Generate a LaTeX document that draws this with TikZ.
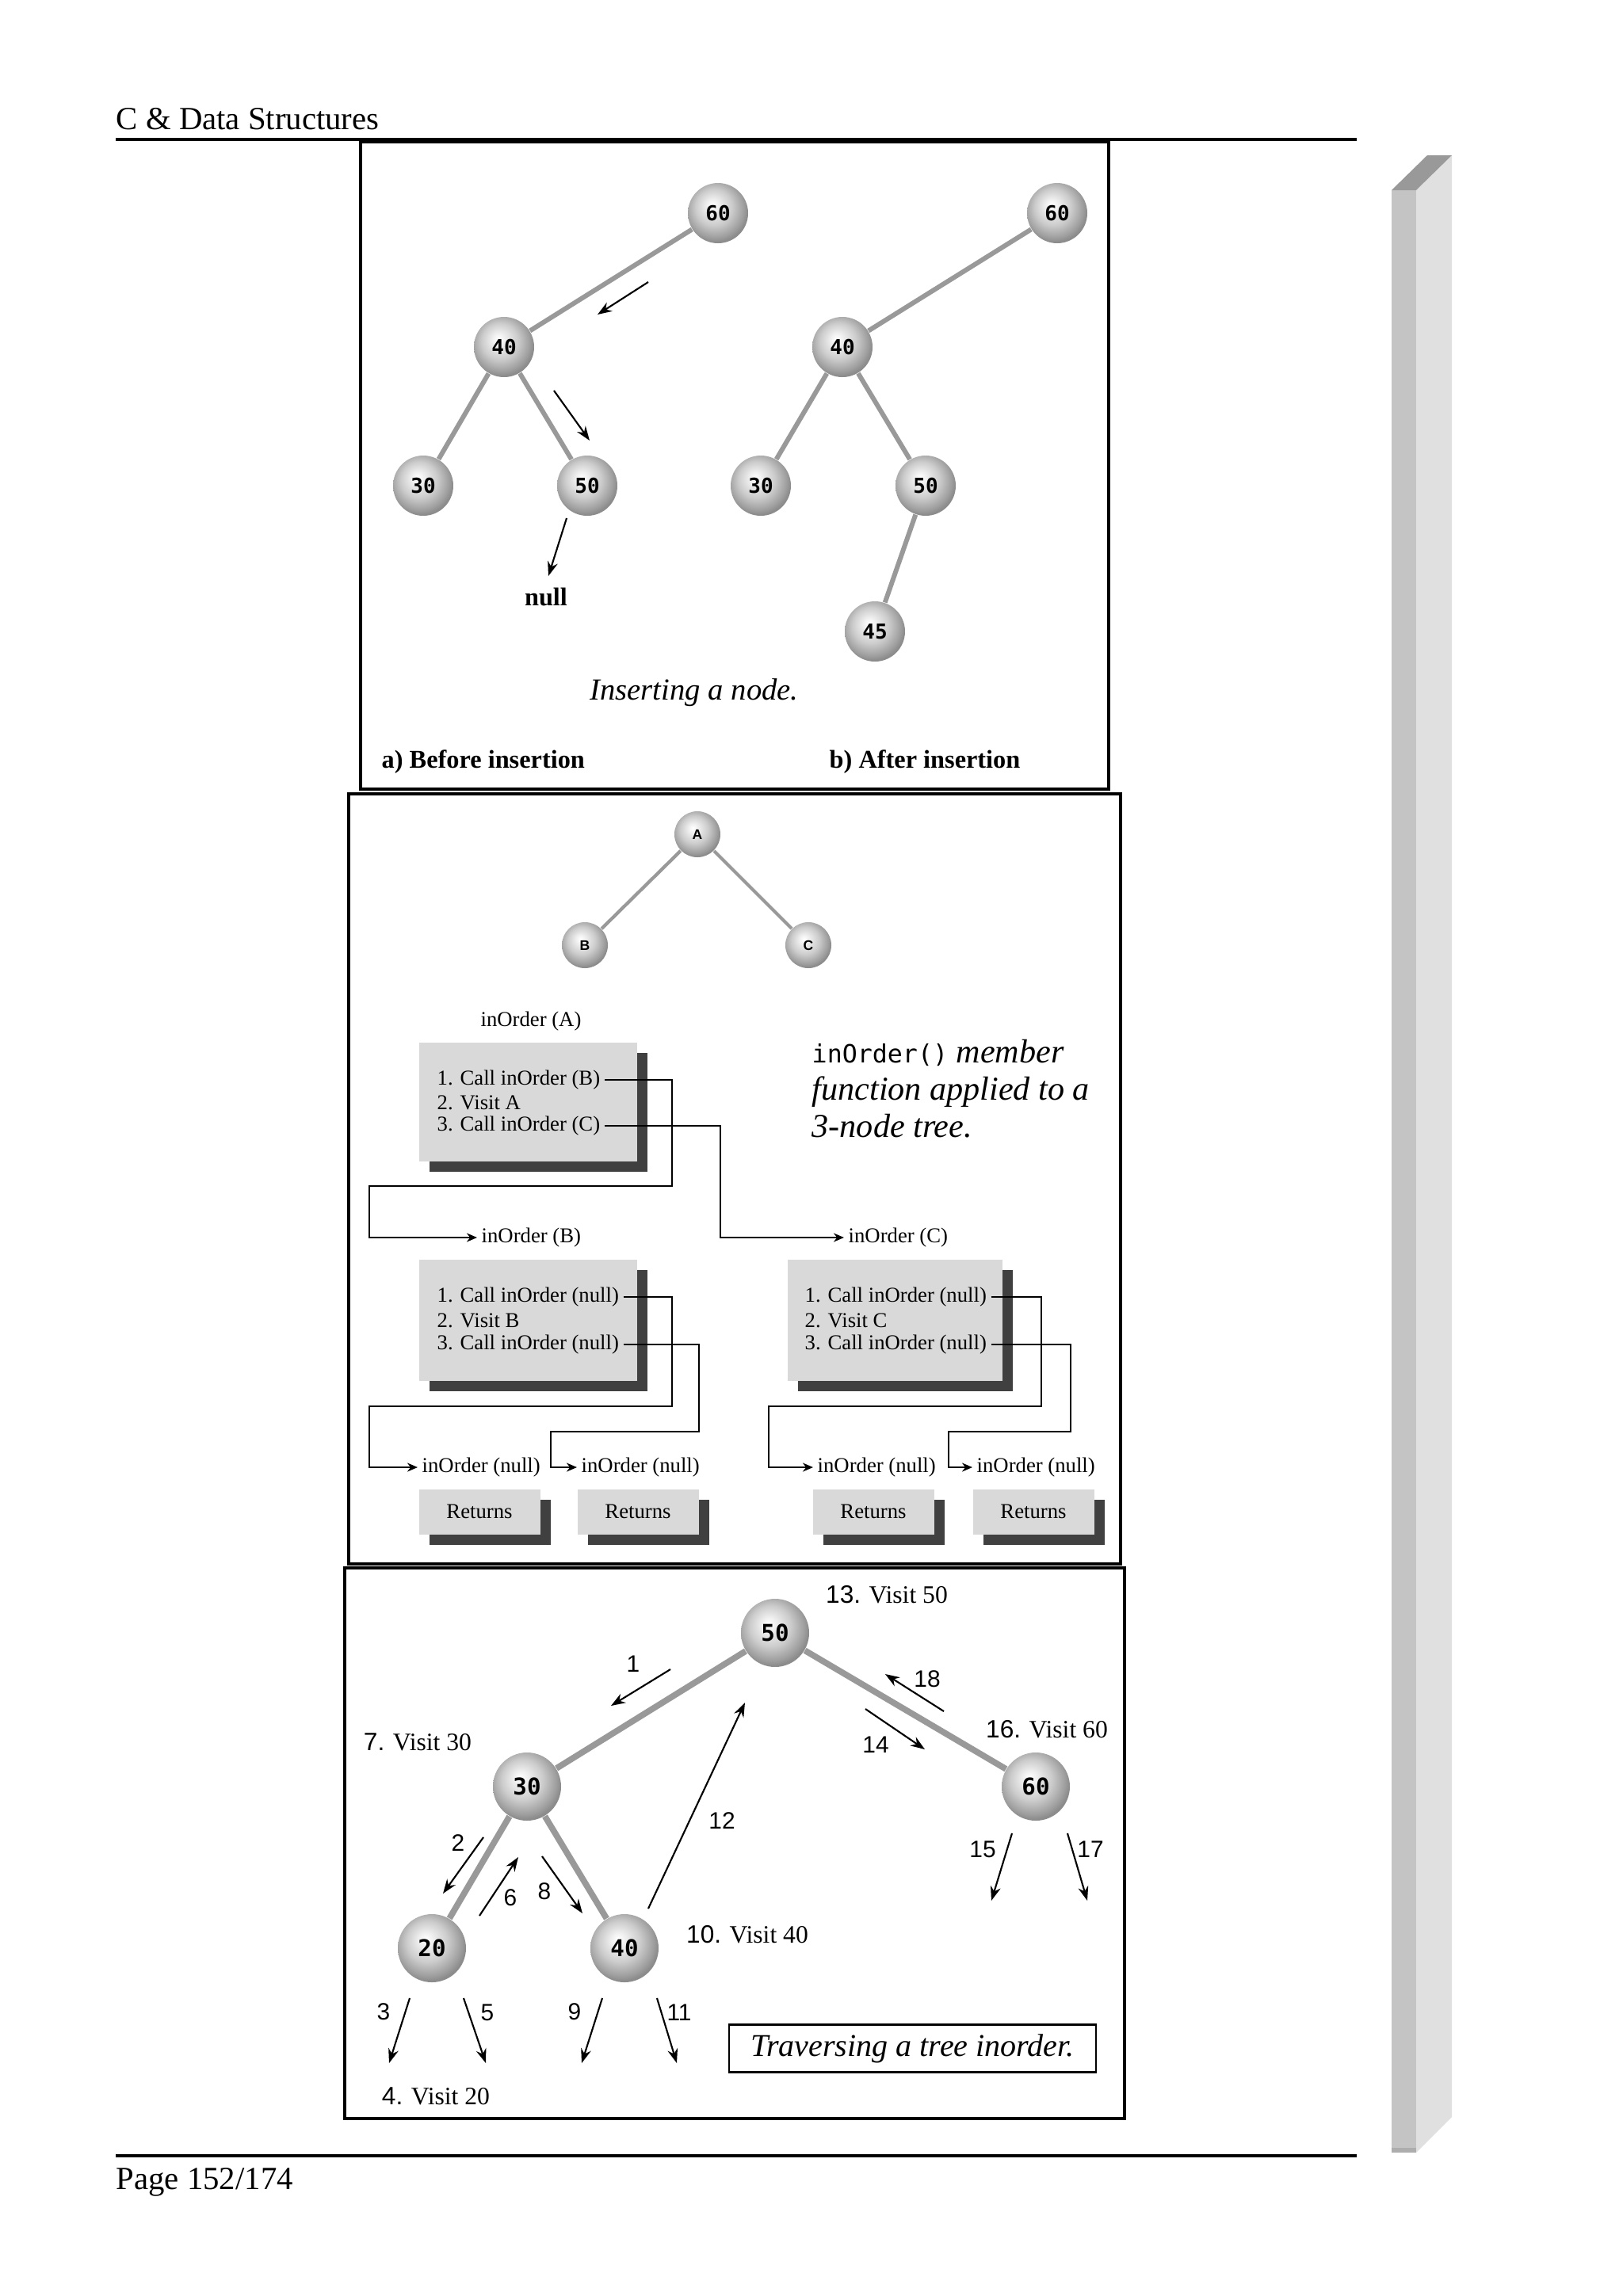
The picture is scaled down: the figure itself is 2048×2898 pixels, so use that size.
\documentclass[tikz,border=0pt]{standalone}
\usepackage{fontspec}
\setmainfont{Liberation Serif}
\setsansfont{Liberation Sans}
\setmonofont{DejaVu Sans Mono}
\usepackage{tikz}
\usetikzlibrary{shapes}
\usetikzlibrary{positioning}
\usetikzlibrary{arrows.meta,shadows}
\usepackage{xcolor}
\newcommand{\sz}[1]{\fontsize{#1}{#1}\selectfont}
\pgfdeclareradialshading{pearl}{\pgfqpoint{-5bp}{7bp}}{color(0bp)=(white); color(5bp)=(black!6);
 color(15bp)=(black!20); color(24bp)=(black!38); color(27bp)=(black!45); color(50bp)=(black!45)}

\begin{document}
\begin{tikzpicture}[x=0.1mm,y=-0.1mm,
 ball/.style={circle,shading=pearl,inner sep=0pt,font=\ttfamily\bfseries},
 bigball/.style={ball,minimum size=8.6mm,font=\ttfamily\bfseries\sz{8.3}},
 midball/.style={ball,minimum size=7.6mm,font=\ttfamily\bfseries\sz{7.4}},
 tinyball/.style={ball,minimum size=5.8mm,font=\sffamily\bfseries\sz{5}},
 limb/.style={draw=black!40,line width=1.7pt},
 ptr/.style={-{Stealth[length=1.8mm,width=1.3mm]},line width=0.6pt},
 link/.style={-{Stealth[length=1.3mm,width=1.1mm]},line width=0.8pt},
 panel/.style={draw,line width=0.9pt},
 call/.style={fill=black!15,drop shadow={shadow xshift=1.3mm,shadow yshift=-1.3mm,fill=black!75,opacity=1}},
 smalltxt/.style={font=\sz{7.6},inner sep=0.5mm},
 num/.style={font=\sffamily\sz{8.5},inner sep=0pt},
 visit/.style={font=\sz{9},inner sep=0pt}]
\useasboundingbox (0,0) rectangle (2048,2898);
\fill[white] (0,0) rectangle (2048,2898);

% page head and foot
\node[anchor=base west,inner sep=0pt,font=\sz{11.6}] (head) at (146,163) {C \& Data Structures};
\draw[line width=0.9pt] (146,176) -- (1712,176);
\draw[line width=0.9pt] (146,2721) -- (1712,2721);
\node[anchor=base west,inner sep=0pt,font=\sz{11.6}] (foot) at (146,2763) {Page 152/174};

% side bar
\fill[black!12] (1787,240) -- (1832,196) -- (1832,2672) -- (1787,2717) -- cycle;
\fill[black!23] (1756,240) rectangle (1787,2717);
\fill[black!32] (1756,2711) rectangle (1787,2717);
\fill[black!40] (1756,240) -- (1801,196) -- (1832,196) -- (1787,240) -- cycle;

% panel a/b: inserting
\draw[panel,line width=1.2pt] (455,179) rectangle (1399,996);
\node[midball] (l60) at (906,269) {60};
\node[midball] (l40) at (636,438) {40};
\node[midball] (l30) at (534,613) {30};
\node[midball] (l50) at (741,613) {50};
\draw[limb] (l60) -- (l40);
\draw[limb] (l40) -- (l30);
\draw[limb] (l40) -- (l50);
\draw[ptr] (818,356) -- (754,397);
\draw[ptr] (699,493) -- (744,556);
\draw[ptr] (715,654) -- (692,727);
\node[font=\bfseries\sz{9.2}] (null) at (689,753) {null};
\node[midball] (r60) at (1334,269) {60};
\node[midball] (r40) at (1063,438) {40};
\node[midball] (r30) at (960,613) {30};
\node[midball] (r50) at (1168,613) {50};
\node[midball] (r45) at (1104,797) {45};
\draw[limb] (r60) -- (r40);
\draw[limb] (r40) -- (r30);
\draw[limb] (r40) -- (r50);
\draw[limb] (r50) -- (r45);
\node[font=\itshape\sz{11}] (ins) at (876,874) {Inserting a node.};
\node[anchor=west,inner sep=0pt,font=\bfseries\sz{9.2}] (before) at (481,962) {a) Before insertion};
\node[anchor=west,inner sep=0pt,font=\bfseries\sz{9.2}] (after) at (1046,962) {b) After insertion};

% panel: inOrder on 3 nodes
\draw[panel] (440,1002) rectangle (1414,1974);
\node[tinyball] (nA) at (880,1053) {A};
\node[tinyball] (nB) at (738,1193) {B};
\node[tinyball] (nC) at (1020,1193) {C};
\draw[limb,line width=1.2pt] (nA) -- (nB);
\draw[limb,line width=1.2pt] (nA) -- (nC);
\node[smalltxt] (hA) at (670,1289) {inOrder (A)};
\node[call,minimum width=27.5mm,minimum height=15mm] (bA) at (666.5,1391) {};
\node[smalltxt,anchor=west] (a1) at (546,1363) {1. Call inOrder (B)};
\node[smalltxt,anchor=west] (a2) at (546,1392) {2. Visit A};
\node[smalltxt,anchor=west] (a3) at (546,1421) {3. Call inOrder (C)};
\node[anchor=west,align=left,inner sep=0pt,font=\itshape\fontsize{12}{13.4}\selectfont] (note) at (1024,1374)
 {{\upshape\ttfamily\sz{9}inOrder()} member\\function applied to a\\3-node tree.};
\node[smalltxt,anchor=west] (inB) at (602,1562) {inOrder (B)};
\node[smalltxt,anchor=west] (inC) at (1065,1562) {inOrder (C)};
\draw[link] (a1.east) -| (848,1497) -| (466,1562) -- (inB.west);
\draw[link] (a3.east) -| (909,1562) -- (inC.west);
\node[call,minimum width=27.5mm,minimum height=15.3mm] (bB) at (666.5,1666.5) {};
\node[smalltxt,anchor=west] (b1) at (546,1637) {1. Call inOrder (null)};
\node[smalltxt,anchor=west] (b2) at (546,1667) {2. Visit B};
\node[smalltxt,anchor=west] (b3) at (546,1697) {3. Call inOrder (null)};
\node[call,minimum width=27.1mm,minimum height=15.3mm] (bC) at (1129.5,1666.5) {};
\node[smalltxt,anchor=west] (c1) at (1010,1637) {1. Call inOrder (null)};
\node[smalltxt,anchor=west] (c2) at (1010,1667) {2. Visit C};
\node[smalltxt,anchor=west] (c3) at (1010,1697) {3. Call inOrder (null)};
\node[smalltxt,anchor=west] (nb1) at (527,1852) {inOrder (null)};
\node[smalltxt,anchor=west] (nb2) at (728,1852) {inOrder (null)};
\node[smalltxt,anchor=west] (nc1) at (1026,1852) {inOrder (null)};
\node[smalltxt,anchor=west] (nc2) at (1227,1852) {inOrder (null)};
\draw[link] (b1.east) -| (848,1775) -| (466,1852) -- (nb1.west);
\draw[link] (b3.east) -| (882,1807) -| (695,1852) -- (nb2.west);
\draw[link] (c1.east) -| (1314,1775) -| (970,1852) -- (nc1.west);
\draw[link] (c3.east) -| (1351,1807) -| (1197,1852) -- (nc2.west);
\node[call,smalltxt,minimum width=15.3mm,minimum height=5.7mm] (rb1) at (605,1908) {Returns};
\node[call,smalltxt,minimum width=15.3mm,minimum height=5.7mm] (rb2) at (805,1908) {Returns};
\node[call,smalltxt,minimum width=15.3mm,minimum height=5.7mm] (rc1) at (1102,1908) {Returns};
\node[call,smalltxt,minimum width=15.3mm,minimum height=5.7mm] (rc2) at (1304,1908) {Returns};

% panel: inorder walk
\draw[panel] (435,1979) rectangle (1419,2674);
\node[bigball] (t50) at (978,2061) {50};
\node[bigball] (t30) at (665,2255) {30};
\node[bigball] (t60) at (1307,2255) {60};
\node[bigball] (t20) at (545,2459) {20};
\node[bigball] (t40) at (788,2459) {40};
\draw[limb,line width=2.2pt] (t50) -- (t30);
\draw[limb,line width=2.2pt] (t50) -- (t60);
\draw[limb,line width=2.2pt] (t30) -- (t20);
\draw[limb,line width=2.2pt] (t30) -- (t40);
\draw[ptr] (846,2107) -- (771,2153);
\node[num] (s1) at (799,2100) {1};
\draw[ptr] (610,2319) -- (559,2390);
\node[num] (s2) at (578,2326) {2};
\draw[ptr] (517,2522) -- (491,2604);
\node[num] (s3) at (484,2539) {3};
\draw[ptr] (585,2522) -- (613,2604);
\node[num] (s5) at (615,2540) {5};
\draw[ptr] (605,2418) -- (654,2344);
\node[num] (s6) at (644,2395) {6};
\draw[ptr] (684,2343) -- (735,2415);
\node[num] (s8) at (687,2387) {8};
\draw[ptr] (760,2522) -- (734,2604);
\node[num] (s9) at (725,2539) {9};
\draw[ptr] (829,2522) -- (854,2604);
\node[num] (s11) at (857,2540) {11};
\draw[ptr] (818,2409) -- (940,2149);
\node[num] (s12) at (911,2298) {12};
\draw[ptr] (1092,2157) -- (1167,2208);
\node[num] (s14) at (1105,2202) {14};
\draw[ptr] (1277,2314) -- (1251,2399);
\node[num] (s15) at (1240,2334) {15};
\draw[ptr] (1347,2314) -- (1372,2399);
\node[num] (s17) at (1376,2334) {17};
\draw[ptr] (1191,2160) -- (1117,2113);
\node[num] (s18) at (1170,2119) {18};
\node[visit] (v50) at (1119,2013) {\textsf{13.} Visit 50};
\node[visit] (v30) at (527,2199) {\textsf{7.} Visit 30};
\node[visit] (v60) at (1321,2183) {\textsf{16.} Visit 60};
\node[visit] (v40) at (943,2442) {\textsf{10.} Visit 40};
\node[visit] (v20) at (550,2646) {\textsf{4.} Visit 20};
\node[draw,line width=0.8pt,minimum width=46.3mm,minimum height=5.7mm,font=\itshape\sz{11.4}] (walk) at (1151.5,2585.5) {Traversing a tree inorder.};
\end{tikzpicture}
\end{document}
